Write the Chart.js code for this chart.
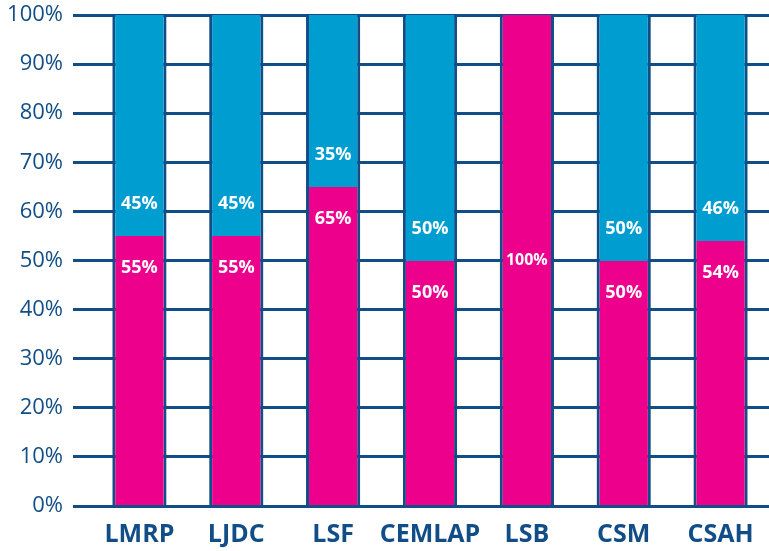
<!DOCTYPE html>
<html lang="en">
<head>
  <meta charset="UTF-8">
  <title>Stacked percentage chart</title>
  <script src="https://cdn.jsdelivr.net/npm/chart.js"></script>
  <style>
    html, body {
      margin: 0;
      padding: 0;
      background: #fff;
    }
    #wrap {
      width: 769px;
      height: 551px;
    }
  </style>
</head>
<body>
  <div id="wrap">
    <canvas id="chart" width="769" height="551"></canvas>
  </div>

  <script>
    // data
    const categories = ['LMRP', 'LJDC', 'LSF', 'CEMLAP', 'LSB', 'CSM', 'CSAH'];
    const pinkValues = [55, 55, 65, 50, 100, 50, 54];
    const blueValues = [45, 45, 35, 50, 0, 50, 46];
    const yTicks = [0, 10, 20, 30, 40, 50, 60, 70, 80, 90, 100];

    const NAVY = '#114d86';
    const PINK = '#ec008c';
    const BLUE = '#009dd1';

    // snap segment edges to whole pixels so no light seam shows between pink and blue
    const snapPlugin = {
      id: 'snapBars',
      beforeDatasetsDraw(chart) {
        chart.data.datasets.forEach((ds, di) => {
          chart.getDatasetMeta(di).data.forEach(bar => {
            bar.y = Math.round(bar.y);
            bar.base = Math.round(bar.base);
          });
        });
      }
    };

    // white labels near the pink / blue boundary
    const labelPlugin = {
      id: 'segLabels',
      afterDatasetsDraw(chart) {
        const ctx = chart.ctx;
        ctx.save();
        ctx.fillStyle = '#fff';
        ctx.textAlign = 'center';
        ctx.textBaseline = 'middle';
        chart.data.datasets.forEach((ds, di) => {
          const meta = chart.getDatasetMeta(di);
          meta.data.forEach((bar, i) => {
            const v = ds.data[i];
            if (!v) return;
            if (v === 100) {
              ctx.font = 'bold 16px "Open Sans"';
              ctx.fillText(v + '%', bar.x, (bar.y + bar.base) / 2);
            } else if (di === 0) {
              ctx.font = 'bold 18px "Open Sans"';
              ctx.fillText(v + '%', bar.x, bar.y + 32);
            } else {
              ctx.font = 'bold 18px "Open Sans"';
              ctx.fillText(v + '%', bar.x, bar.base - 32);
            }
          });
        });
        ctx.restore();
      }
    };

    const ctx = document.getElementById('chart').getContext('2d');
    new Chart(ctx, {
      type: 'bar',
      data: {
        labels: categories,
        datasets: [
          {
            data: pinkValues,
            backgroundColor: PINK,
            borderColor: NAVY,
            borderWidth: { left: 3, right: 3, top: 0, bottom: 0 },
            borderSkipped: false,
            barPercentage: 0.56,
            categoryPercentage: 1
          },
          {
            data: blueValues,
            backgroundColor: BLUE,
            borderColor: NAVY,
            borderWidth: { left: 3, right: 3, top: 0, bottom: 0 },
            borderSkipped: false,
            barPercentage: 0.56,
            categoryPercentage: 1
          }
        ]
      },
      options: {
        responsive: false,
        animation: false,
        layout: { padding: { top: 15, right: 0, left: 0, bottom: 0 } },
        plugins: {
          legend: { display: false },
          tooltip: { enabled: false }
        },
        scales: {
          x: {
            stacked: true,
            grid: { display: false },
            border: { display: false },
            ticks: {
              color: NAVY,
              padding: 6,
              maxRotation: 0,
              minRotation: 0,
              autoSkip: false,
              font: { family: 'Open Sans', size: 25, weight: 'bold' }
            },
            afterFit(scale) { scale.height = 45; }
          },
          y: {
            stacked: true,
            min: 0,
            max: 100,
            afterBuildTicks(scale) {
              scale.ticks = yTicks.map(v => ({ value: v }));
            },
            grid: {
              color: NAVY,
              lineWidth: 3,
              tickLength: 18,
              z: -1
            },
            border: { display: false },
            ticks: {
              color: NAVY,
              padding: 10,
              font: { family: 'Open Sans', size: 22 },
              callback: v => v + '%'
            },
            afterFit(scale) {
              scale.width = 91;
              scale.paddingTop = 0;
              scale.paddingBottom = 0;
            }
          }
        }
      },
      plugins: [snapPlugin, labelPlugin]
    });
  </script>
</body>
</html>
